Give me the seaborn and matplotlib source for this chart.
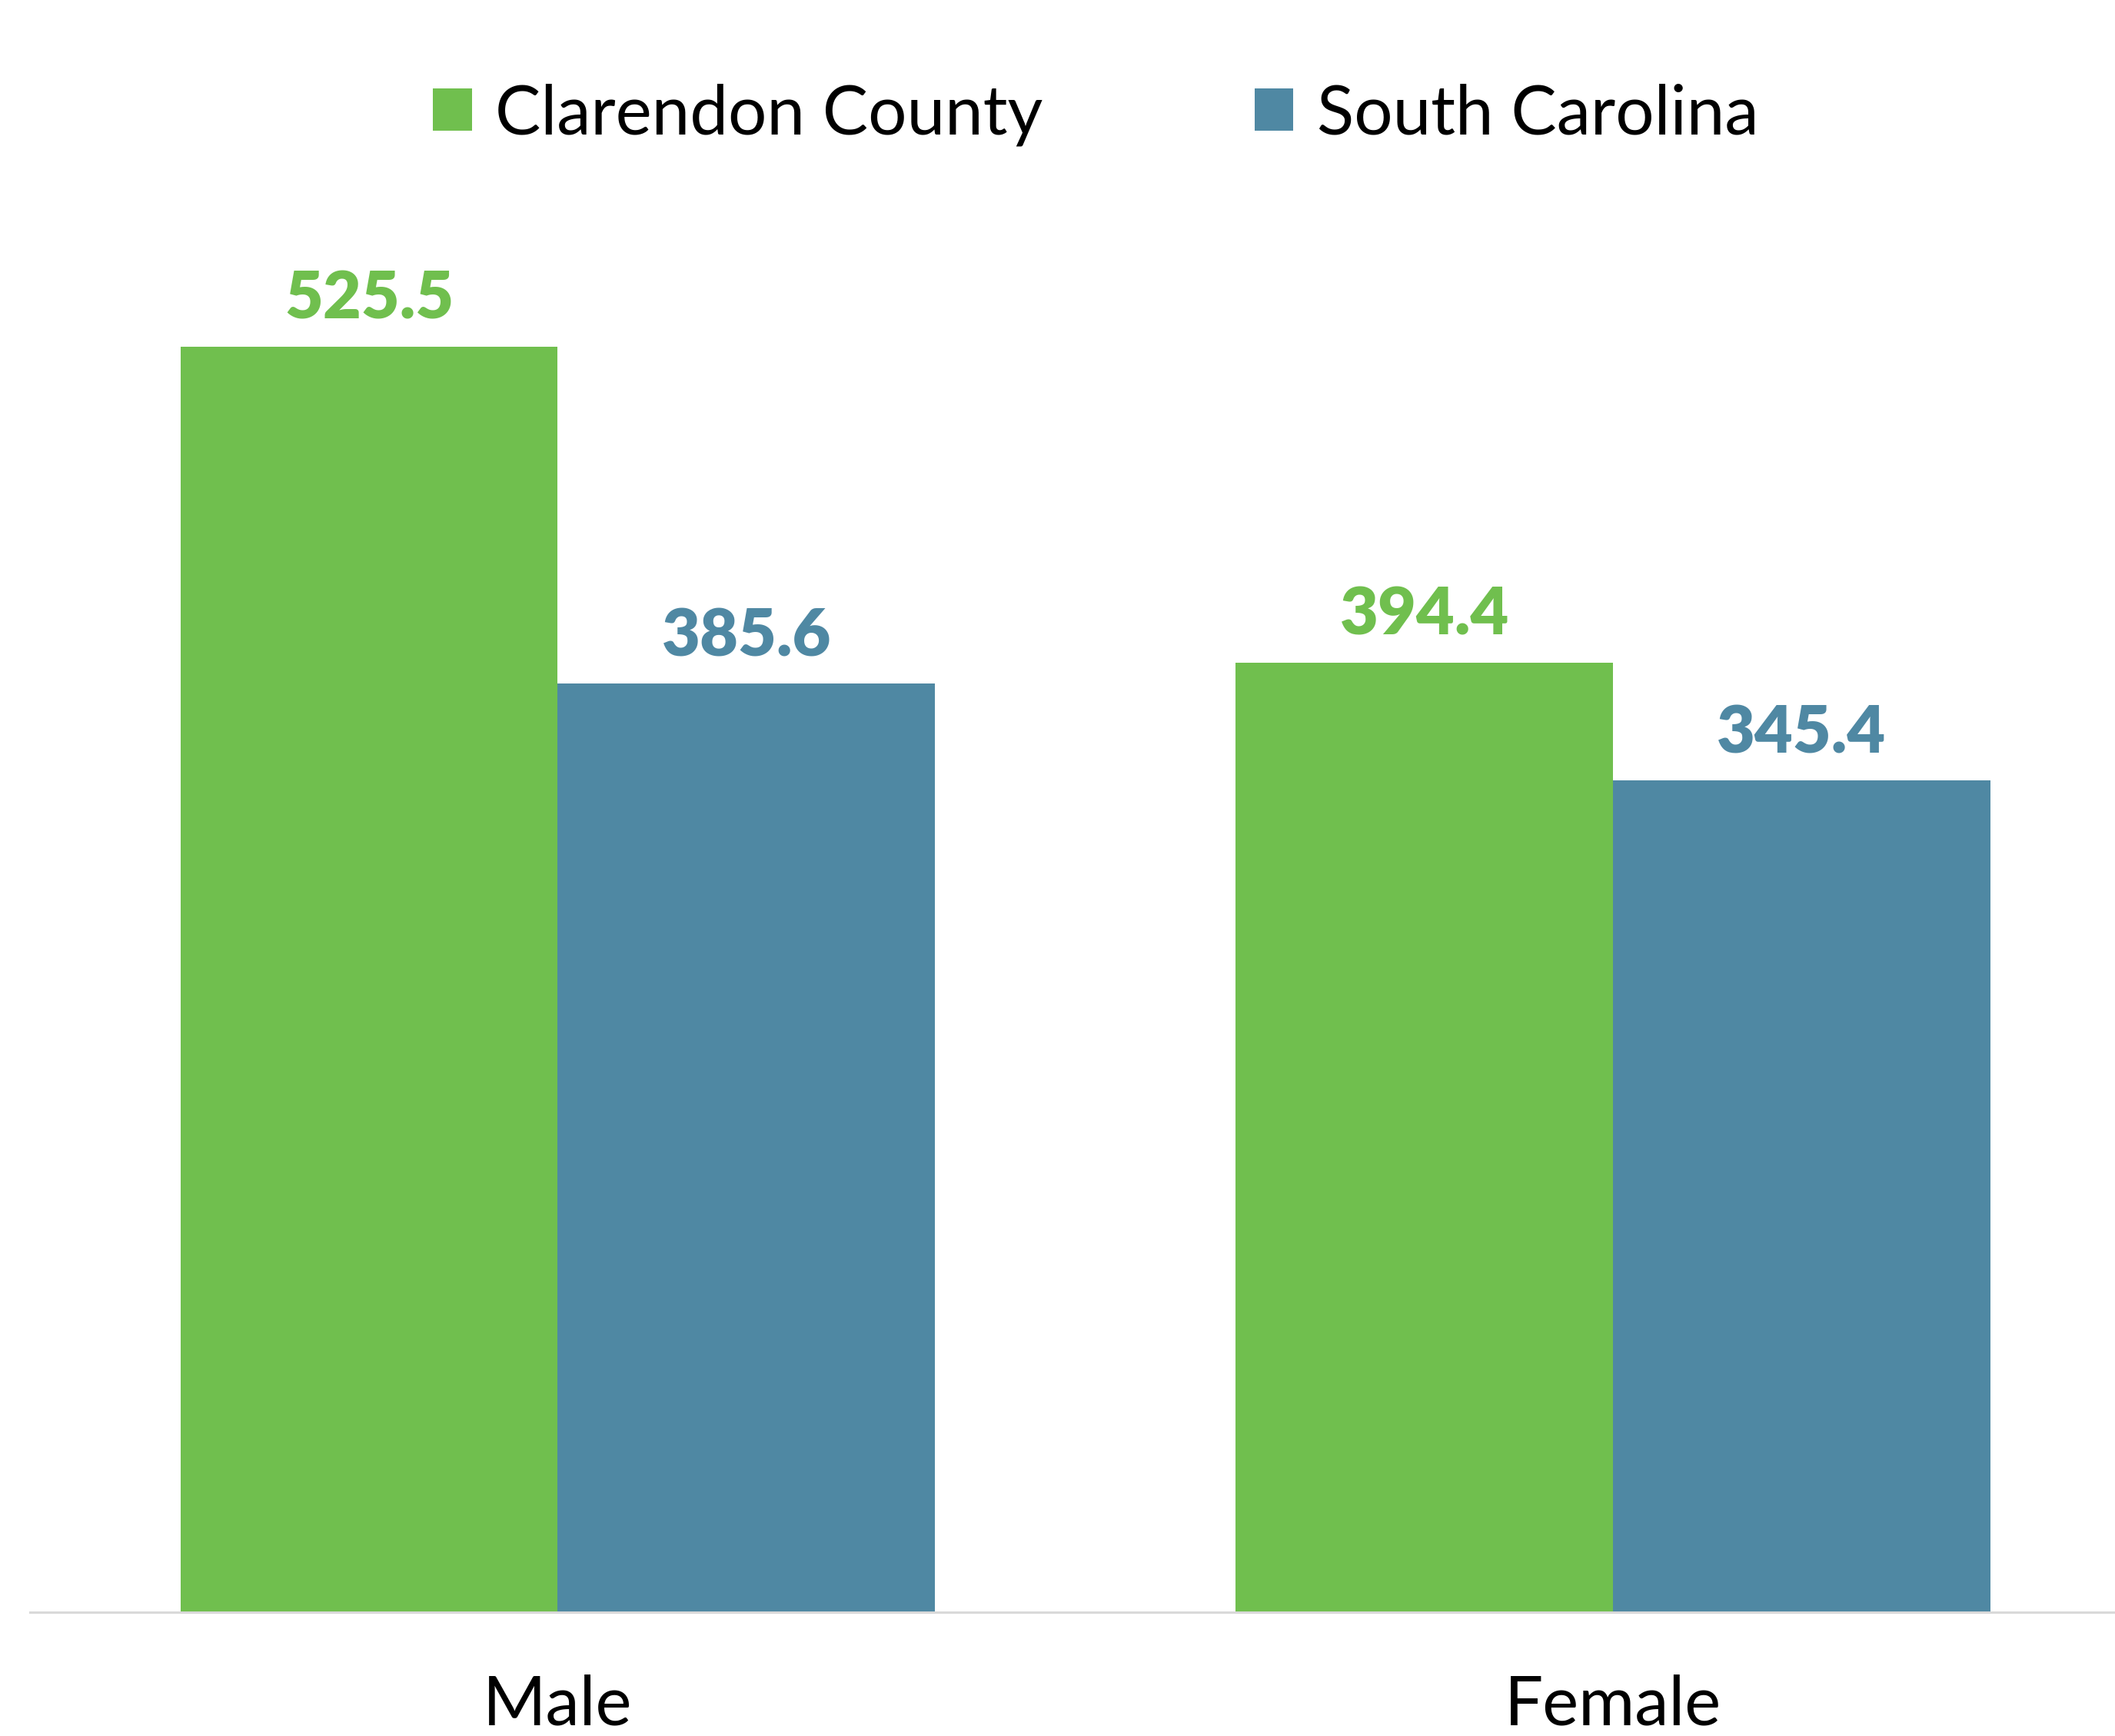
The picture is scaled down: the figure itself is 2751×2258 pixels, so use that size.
import matplotlib
matplotlib.use("Agg")
import matplotlib.pyplot as plt
import seaborn as sns
import pandas as pd
from matplotlib.patches import Patch

# data
sexes = ["Male", "Female"]
clarendon = [525.5, 394.4]
south_carolina = [385.6, 345.4]
series = ["Clarendon County", "South Carolina"]
colors = ["#70BF4E", "#4F88A3"]

df = pd.DataFrame({
    "sex": sexes * 2,
    "value": clarendon + south_carolina,
    "area": [series[0]] * 2 + [series[1]] * 2,
})

sns.set_theme(style="white")
plt.rcParams["font.family"] = ["Lato", "DejaVu Sans"]

fig = plt.figure(figsize=(27.51, 22.58), dpi=100)
ax = fig.add_axes([0.01418, 0.0713, 0.998, 0.8322])

sns.barplot(data=df, x="sex", y="value", hue="area", palette=colors,
            width=0.715, gap=0, saturation=1, linewidth=0, ax=ax, legend=False)

ax.set_xlim(-0.5, 1.5)
ax.set_ylim(0, 600)
ax.set_xlabel("")
ax.set_ylabel("")
ax.set_yticks([])
ax.tick_params(axis="x", length=0, labelsize=64, pad=58, labelcolor="black")
for s in ["top", "right", "left"]:
    ax.spines[s].set_visible(False)
ax.spines["bottom"].set_color("#D9D9D9")
ax.spines["bottom"].set_linewidth(2.2)

for cont, c in zip(ax.containers, colors):
    ax.bar_label(cont, fmt="%.1f", color=c, fontsize=62, fontweight="heavy", padding=16)

handles = [Patch(facecolor=c, edgecolor="none") for c in colors]
fig.legend(handles, series, loc="center", bbox_to_anchor=(0.518, 0.934), ncol=2,
           frameon=False, fontsize=64, labelcolor="black",
           handlelength=0.57, handleheight=0.57,
           handletextpad=0.34, columnspacing=3.1)

fig.savefig("out.png", dpi=100)
